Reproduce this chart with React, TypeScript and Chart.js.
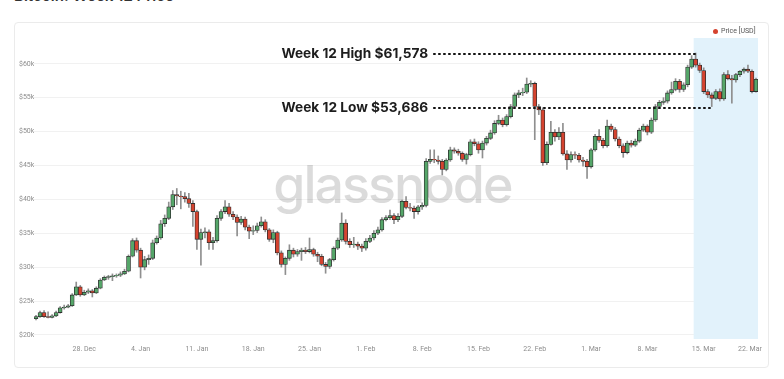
import React, { useEffect, useRef } from "react";
import { Chart, registerables } from "chart.js";

Chart.register(...registerables);

// 12-hour candles, Dec 22 2020 00:00 UTC ... Mar 21 2021 12:00 UTC, values in $k
const OPEN_0 = 22.4;
const CLOSE = [
  22.7, 23.3, 22.7, 22.6, 22.8, 23.3, 24.0, 24.1, 24.3, 25.9,
  27.1, 25.9, 26.3, 26.5, 26.2, 26.9, 28.1, 28.5, 28.6, 28.7,
  28.8, 29.0, 29.4, 31.6, 33.9, 32.5, 30.0, 31.1, 31.3, 33.6,
  34.3, 36.4, 37.2, 38.9, 40.7, 40.5, 40.4, 40.1, 39.4, 38.2,
  34.1, 35.1, 35.2, 33.6, 33.9, 37.2, 38.2, 38.9, 37.8, 37.4,
  36.6, 37.1, 35.9, 35.3, 35.4, 36.1, 36.7, 35.5, 34.1, 35.1,
  32.1, 30.4, 31.3, 32.5, 31.9, 32.3, 32.5, 32.3, 32.6, 31.9,
  31.6, 30.4, 30.1, 31.1, 32.8, 34.0, 36.5, 33.8, 33.3, 33.4,
  33.1, 32.8, 33.8, 34.3, 35.0, 35.5, 37.0, 37.3, 37.6, 37.0,
  37.5, 39.7, 38.8, 38.7, 38.2, 38.9, 39.1, 45.6, 45.9, 45.8,
  45.6, 44.4, 45.8, 47.3, 47.1, 46.8, 45.9, 46.6, 48.5, 48.2,
  47.3, 48.3, 49.0, 49.8, 51.2, 51.7, 51.0, 52.2, 53.7, 55.4,
  55.7, 55.8, 57.0, 57.1, 53.7, 53.2, 45.4, 48.1, 49.9, 49.2,
  49.9, 46.7, 45.8, 46.6, 46.5, 45.8, 45.6, 44.8, 47.3, 49.3,
  48.7, 47.9, 50.8, 50.3, 48.9, 47.9, 46.9, 48.3, 48.0, 48.6,
  50.2, 50.8, 49.9, 51.7, 53.7, 54.3, 54.5, 55.7, 56.2, 57.4,
  56.2, 56.9, 59.5, 60.7, 59.8, 59.0, 55.9, 55.4, 54.9, 55.9,
  54.8, 58.4, 57.8, 57.6, 58.4, 58.9, 59.2, 58.9, 55.9, 57.7,
];
const HIGH = [
  22.9, 23.5, 23.6, 23.4, 23.0, 23.5, 24.2, 24.4, 24.5, 26.1,
  27.8, 27.3, 26.6, 26.8, 26.7, 27.1, 28.3, 28.7, 28.8, 29.0,
  29.0, 29.3, 29.7, 31.8, 34.2, 34.3, 32.8, 31.6, 31.8, 34.0,
  34.6, 36.9, 37.7, 39.6, 41.3, 41.6, 41.2, 41.0, 40.9, 39.8,
  38.4, 35.6, 35.8, 35.5, 34.4, 37.6, 38.5, 39.8, 39.4, 38.2,
  37.7, 37.5, 37.4, 36.2, 36.1, 36.5, 37.4, 37.0, 35.7, 35.5,
  35.3, 32.4, 31.5, 33.3, 32.8, 32.6, 32.8, 32.9, 34.3, 32.8,
  32.2, 31.9, 30.7, 31.3, 33.0, 34.3, 38.0, 37.0, 34.2, 34.4,
  33.7, 33.4, 34.2, 34.7, 35.4, 35.9, 37.3, 37.6, 38.4, 37.9,
  37.9, 39.9, 40.4, 39.4, 39.0, 39.1, 39.5, 46.0, 47.3, 47.3,
  46.4, 45.9, 46.0, 47.7, 47.6, 47.4, 47.0, 46.8, 48.8, 48.9,
  48.5, 48.6, 49.3, 50.2, 51.6, 52.4, 52.0, 52.5, 54.0, 55.7,
  56.1, 56.4, 57.9, 57.5, 57.3, 54.0, 53.5, 48.5, 51.5, 50.3,
  50.6, 51.2, 47.2, 47.0, 47.0, 46.8, 46.2, 45.9, 47.5, 49.6,
  50.3, 49.0, 51.7, 51.1, 50.6, 49.2, 48.2, 48.6, 48.7, 48.9,
  50.5, 51.1, 51.0, 52.0, 54.0, 54.6, 55.0, 56.0, 57.3, 57.8,
  57.7, 57.2, 59.8, 61.2, 61.578, 60.1, 59.4, 56.2, 55.7, 56.2,
  56.3, 58.7, 59.0, 58.3, 58.6, 59.0, 59.4, 59.8, 59.1, 57.9,
];
const LOW = [
  22.2, 22.6, 22.6, 22.5, 22.5, 22.7, 23.2, 23.8, 24.0, 24.2,
  25.8, 25.7, 25.8, 26.1, 25.6, 26.1, 26.8, 28.0, 28.2, 28.0,
  28.5, 28.6, 28.9, 29.3, 31.5, 32.2, 28.4, 29.6, 30.4, 31.1,
  33.4, 34.1, 36.0, 37.0, 38.5, 39.2, 38.6, 39.6, 38.8, 36.0,
  32.6, 30.3, 34.3, 32.6, 32.6, 33.7, 36.9, 37.9, 37.5, 37.0,
  34.6, 36.3, 35.5, 34.2, 34.8, 35.1, 35.9, 35.2, 33.8, 33.6,
  31.8, 30.0, 28.9, 31.0, 31.5, 31.6, 31.0, 32.0, 32.1, 31.6,
  30.8, 30.2, 29.1, 29.8, 30.9, 32.6, 33.8, 33.4, 32.9, 32.9,
  32.6, 32.3, 32.5, 33.6, 34.0, 34.8, 35.3, 36.8, 37.0, 36.4,
  36.7, 37.3, 38.6, 38.3, 37.2, 37.8, 38.5, 38.9, 45.3, 45.4,
  45.2, 43.6, 44.2, 45.6, 46.8, 46.5, 45.6, 45.2, 46.4, 47.9,
  46.8, 46.1, 48.0, 48.8, 49.6, 51.0, 50.7, 50.8, 52.0, 53.5,
  55.0, 55.3, 55.6, 56.6, 48.8, 52.5, 45.0, 45.1, 48.0, 48.6,
  48.8, 46.5, 44.4, 45.5, 46.0, 45.5, 44.9, 43.1, 44.6, 47.1,
  48.4, 47.6, 47.7, 50.0, 48.6, 47.6, 46.2, 46.7, 47.7, 47.8,
  48.4, 50.0, 49.5, 49.7, 51.5, 53.4, 54.0, 54.2, 55.5, 56.0,
  55.8, 55.9, 56.6, 59.3, 59.5, 58.7, 55.6, 55.0, 53.686, 54.7,
  54.5, 54.6, 57.6, 54.2, 57.3, 58.1, 58.6, 58.7, 55.7, 55.8,
];

const X_TICK_VALUES = [12, 26, 40, 54, 68, 82, 96, 110, 124, 138, 152, 166, 177.5];
const X_TICK_LABELS = [
  "28. Dec", "4. Jan", "11. Jan", "18. Jan", "25. Jan", "1. Feb", "8. Feb",
  "15. Feb", "22. Feb", "1. Mar", "8. Mar", "15. Mar", "22. Mar",
];
const Y_TICKS = [20, 25, 30, 35, 40, 45, 50, 55, 60];

const WEEK12_START_INDEX = 164;
const WEEK12_HIGH = 61.578;
const WEEK12_HIGH_INDEX = 164;
const WEEK12_LOW = 53.686;
const WEEK12_LOW_INDEX = 168;
const HIGH_LABEL = "Week 12 High $61,578";
const LOW_LABEL = "Week 12 Low $53,686";
const LABEL_END_INDEX = 98;

const GREEN = "#55a669";
const RED = "#d5432f";
const OUTLINE = "#2e2e2e";
const WICK = "#8f8f8f";
const BAND = "#e2f2fb";

const overlayPlugin = {
  id: "overlay",
  beforeDatasetsDraw(chart: any) {
    const { ctx, chartArea, scales } = chart;
    const xs = scales.x;
    ctx.save();
    const bx = xs.getPixelForValue(WEEK12_START_INDEX) - 2;
    ctx.fillStyle = BAND;
    ctx.fillRect(bx, chartArea.top, chartArea.right - bx, chartArea.bottom - chartArea.top);
    ctx.fillStyle = "rgba(0,0,0,0.14)";
    ctx.font = "500 52px Inter";
    (ctx as any).letterSpacing = "-2px";
    ctx.textAlign = "center";
    ctx.textBaseline = "alphabetic";
    ctx.fillText("glassnode", chartArea.left + (chartArea.right - chartArea.left) * 0.495, 203);
    ctx.restore();
  },
  afterDatasetsDraw(chart: any) {
    const { ctx, scales } = chart;
    const xs = scales.x;
    const ys = scales.y;
    const textX = xs.getPixelForValue(LABEL_END_INDEX) - 2;
    const rows = [
      { label: HIGH_LABEL, v: WEEK12_HIGH, idx: WEEK12_HIGH_INDEX },
      { label: LOW_LABEL, v: WEEK12_LOW, idx: WEEK12_LOW_INDEX },
    ];
    ctx.save();
    for (const r of rows) {
      const y = ys.getPixelForValue(r.v);
      ctx.fillStyle = "#1d1d1d";
      ctx.font = "700 13.7px Inter";
      ctx.textAlign = "right";
      ctx.textBaseline = "middle";
      ctx.fillText(r.label, textX, y + 1);
      ctx.strokeStyle = "#111";
      ctx.lineWidth = 2;
      ctx.setLineDash([2.5, 2.5]);
      ctx.beginPath();
      ctx.moveTo(textX + 5, Math.round(y) + 1);
      ctx.lineTo(xs.getPixelForValue(r.idx), Math.round(y) + 1);
      ctx.stroke();
    }
    ctx.restore();
  },
};

export default function App() {
  const ref = useRef<HTMLCanvasElement>(null);

  useEffect(() => {
    const open = CLOSE.map((c, i) => (i === 0 ? OPEN_0 : CLOSE[i - 1]));
    const bodies = CLOSE.map((c, i) => ({ x: i, y: [open[i], c] }));
    const wicks = CLOSE.map((c, i) => ({ x: i, y: [LOW[i], HIGH[i]] }));
    const colors = CLOSE.map((c, i) => (c >= open[i] ? GREEN : RED));

    const chart = new Chart(ref.current!, {
      type: "bar",
      data: {
        datasets: [
          {
            label: "Price [USD]",
            data: bodies as any,
            backgroundColor: colors,
            borderColor: OUTLINE,
            borderWidth: 0.8,
            borderSkipped: false,
            barThickness: 4,
            grouped: false,
          } as any,
          {
            label: "wick",
            data: wicks as any,
            backgroundColor: WICK,
            borderWidth: 0,
            barThickness: 1,
            grouped: false,
          } as any,
        ],
      },
      options: {
        responsive: false,
        maintainAspectRatio: false,
        animation: false,
        devicePixelRatio: 1,
        layout: { padding: { left: 19, right: 26, top: 38, bottom: 0 } },
        plugins: {
          legend: { display: false },
          tooltip: { enabled: false },
        },
        scales: {
          x: {
            type: "linear",
            min: -0.5,
            max: 179.5,
            offset: false,
            grid: { display: false, drawTicks: false },
            border: { display: false },
            afterBuildTicks: (axis: any) => {
              axis.ticks = X_TICK_VALUES.map((v) => ({ value: v }));
            },
            afterFit: (s: any) => {
              s.height = 40;
            },
            ticks: {
              autoSkip: false,
              maxRotation: 0,
              padding: 6,
              color: "#8c8c8c",
              font: { family: "Roboto", size: 7 },
              callback: (_v: any, i: number) => X_TICK_LABELS[i],
            },
          },
          y: {
            type: "linear",
            min: 19.4,
            max: 63.8,
            grid: { color: "#f1f1f1", drawTicks: false },
            border: { display: false },
            afterBuildTicks: (axis: any) => {
              axis.ticks = Y_TICKS.map((v) => ({ value: v }));
            },
            afterFit: (s: any) => {
              s.width = 15;
            },
            ticks: {
              crossAlign: "far",
              padding: 0,
              color: "#8c8c8c",
              font: { family: "Roboto", size: 7 },
              callback: (v: any) => "$" + v + "k",
            },
          },
        },
      },
      plugins: [overlayPlugin],
    } as any);
    return () => chart.destroy();
  }, []);

  return (
    <div style={{ position: "absolute", left: 0, top: 0, width: 784, height: 379, overflow: "hidden", background: "#fff" }}>
      <div
        style={{
          position: "absolute",
          left: 14,
          top: -14,
          font: "600 15px Inter, sans-serif",
          color: "#333",
          whiteSpace: "nowrap",
        }}
      >
        Bitcoin: Week 12 Price
      </div>
      <div
        style={{
          position: "absolute",
          left: 14,
          top: 22,
          width: 755,
          height: 346,
          border: "1px solid #ebebeb",
          borderRadius: 4,
          boxSizing: "border-box",
        }}
      />
      <canvas ref={ref} width={784} height={379} style={{ position: "absolute", left: 0, top: 0, width: 784, height: 379 }} />
      <div
        style={{
          position: "absolute",
          left: 713,
          top: 26,
          height: 10,
          display: "flex",
          alignItems: "center",
          font: "7px Roboto, sans-serif",
          color: "#555",
          whiteSpace: "nowrap",
        }}
      >
        <span style={{ display: "inline-block", width: 5, height: 5, borderRadius: "50%", background: RED, marginRight: 3 }} />
        Price [USD]
      </div>
    </div>
  );
}
